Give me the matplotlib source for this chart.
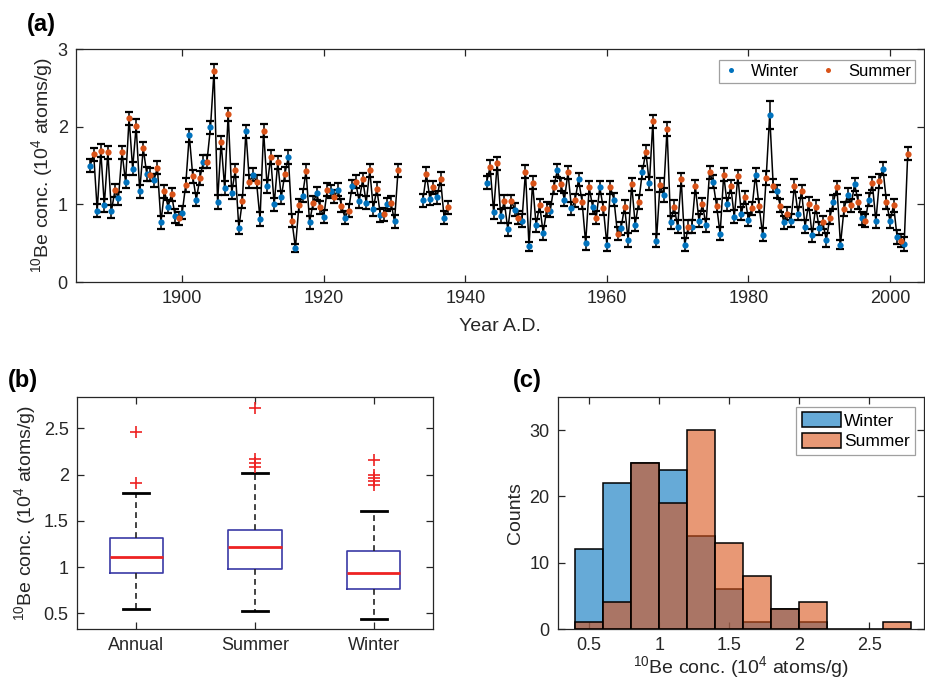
import numpy as np
import matplotlib
matplotlib.use('Agg')
import matplotlib.pyplot as plt
from matplotlib.patches import Patch
from matplotlib.ticker import FuncFormatter

plt.rcParams['font.family'] = ['Liberation Sans', 'DejaVu Sans']
plt.rcParams['mathtext.fontset'] = 'custom'
plt.rcParams['mathtext.rm'] = 'Liberation Sans'
plt.rcParams['mathtext.it'] = 'Liberation Sans:italic'
plt.rcParams['mathtext.bf'] = 'Liberation Sans:bold'

# ---------------- data ----------------
winter_years = np.r_[1887:1931, 1934:1938, 1943:2003]
summer_years = winter_years + 0.5

winter_vals = [
    1.50, 0.92, 0.99, 0.91, 1.08, 1.29, 1.46, 1.17, 1.39, 1.31,   # 1887-1896
    0.77, 0.97, 0.85, 0.89, 1.89, 1.06, 1.55, 1.99, 1.03, 1.21,   # 1897-1906
    1.15, 0.70, 1.94, 1.38, 0.81, 1.23, 1.00, 1.09, 1.61, 0.44,   # 1907-1916
    1.11, 0.77, 1.14, 0.84, 1.17, 1.19, 0.83, 1.23, 1.04, 1.02,   # 1917-1926
    0.94, 0.86, 1.00, 0.78,                                       # 1927-1930
    1.05, 1.07, 1.09, 0.83,                                       # 1934-1937
    1.28, 0.90, 0.85, 0.68, 0.93, 0.79, 0.46, 0.73, 0.63, 0.92,   # 1943-1952
    1.44, 1.06, 0.95, 1.32, 0.50, 0.96, 1.22, 0.48, 1.06, 0.69,   # 1953-1962
    0.54, 0.74, 1.41, 1.27, 0.53, 1.12, 0.77, 0.71, 0.48, 0.71,   # 1963-1972
    0.79, 0.73, 1.29, 0.62, 1.00, 0.84, 0.88, 0.80, 1.38, 0.61,   # 1973-1982
    2.15, 1.17, 0.77, 0.79, 0.88, 0.71, 0.60, 0.69, 0.54, 1.03,   # 1983-1992
    0.48, 1.12, 1.26, 0.82, 1.06, 0.78, 1.46, 0.78, 0.58, 0.49,   # 1993-2002
]
summer_vals = [
    1.645, 1.69, 1.67, 1.18, 1.67, 2.11, 2.01, 1.72, 1.38, 1.47,  # 1887-1896
    1.17, 1.13, 0.82, 1.25, 1.36, 1.34, 1.55, 2.72, 1.80, 2.16,   # 1897-1906
    1.44, 1.04, 1.29, 1.29, 1.95, 1.61, 1.54, 1.39, 0.79, 0.99,   # 1907-1916
    1.43, 1.02, 0.96, 1.19, 1.10, 0.98, 0.92, 1.29, 1.32, 1.44,   # 1917-1926
    1.20, 0.87, 1.02, 1.44,                                       # 1927-1930
    1.39, 1.22, 1.33, 0.96,                                       # 1934-1937
    1.48, 1.53, 1.04, 1.04, 0.83, 1.42, 1.28, 0.99, 0.94, 1.22,   # 1943-1952
    1.26, 1.41, 1.05, 1.03, 1.22, 0.83, 0.95, 1.22, 0.62, 0.97,   # 1953-1962
    1.26, 1.03, 1.68, 2.07, 1.25, 1.97, 0.97, 1.32, 0.71, 1.23,   # 1963-1972
    1.00, 1.41, 0.98, 1.38, 1.23, 1.36, 1.09, 0.95, 0.98, 1.34,   # 1973-1982
    1.24, 0.98, 0.88, 1.24, 1.17, 1.01, 0.97, 0.77, 0.83, 1.22,   # 1983-1992
    0.94, 0.99, 1.03, 0.79, 1.27, 1.30, 1.03, 0.99, 0.53, 1.65,   # 1993-2002
]
default_err = 0.085
winter_err_special = {1983: 0.18, 1916: 0.05, 1949: 0.06, 1993: 0.06}
summer_err_special = {1904: 0.09}

# box plot statistics
box_labels = ['Annual', 'Summer', 'Winter']
box_med = [1.107, 1.219, 0.938]
box_q1 = [0.938, 0.98, 0.762]
box_q3 = [1.316, 1.40, 1.169]
box_whislo = [0.55, 0.53, 0.44]
box_whishi = [1.80, 2.013, 1.607]
box_fliers = [[2.46, 1.906], [2.725, 2.17, 2.13, 2.08], [2.157, 2.0, 1.96, 1.93, 1.89]]

# histogram counts (panel c)
bin_edges = [0.4, 0.6, 0.8, 1.0, 1.2, 1.4, 1.6, 1.8, 2.0, 2.2, 2.4, 2.6, 2.8]
winter_counts = [12, 22, 25, 24, 14, 6, 1, 3, 1]
summer_counts = [1, 4, 25, 19, 30, 13, 8, 3, 4, 0, 0, 1]

# ---------------- style ----------------
BLUE = '#0072BD'
ORANGE = '#D95319'
AX = '#262626'
TICK_FS = 13
LAB_FS = 14
yl_text = r'$^{10}$Be conc. (10$^{4}$ atoms/g)'

W, H = 925, 692
fig = plt.figure(figsize=(W / 100, H / 100), dpi=100)

def px_axes(l, t, r, b):
    return fig.add_axes([l / W, 1 - b / H, (r - l) / W, (b - t) / H])

def style(ax):
    for s in ax.spines.values():
        s.set_color(AX)
        s.set_linewidth(0.9)
    ax.tick_params(direction='in', top=True, right=True, length=5, width=0.9,
                   colors=AX, labelsize=TICK_FS, pad=6)

fmt = FuncFormatter(lambda v, p: ('%g' % round(v, 3)))

# ---------------- panel a ----------------
axa = px_axes(76, 49, 924, 282)
style(axa)
w_err = [winter_err_special.get(int(y), default_err) for y in winter_years]
s_err = [summer_err_special.get(int(y), default_err) for y in winter_years]
t_all = np.concatenate([winter_years, summer_years]).astype(float)
v_all = np.concatenate([winter_vals, summer_vals])
e_all = np.concatenate([w_err, s_err])
order = np.argsort(t_all)
t_all, v_all, e_all = t_all[order], v_all[order], e_all[order]
# break the line at the data gaps
gap = np.where(np.diff(t_all) > 1)[0]
t_line = np.insert(t_all, gap + 1, np.nan)
v_line = np.insert(v_all, gap + 1, np.nan)
e_line = np.insert(e_all, gap + 1, np.nan)
axa.errorbar(t_line, v_line, yerr=e_line, color='k', lw=1.1, elinewidth=1.1,
             capsize=3.2, capthick=1.6, zorder=2)
axa.plot(winter_years, winter_vals, 'o', color=BLUE, ms=4.5, mec='none', zorder=3, label='Winter')
axa.plot(summer_years, summer_vals, 'o', color=ORANGE, ms=4.5, mec='none', zorder=3, label='Summer')
axa.set_xlim(1885, 2004.8)
axa.set_ylim(0, 3)
axa.set_yticks([0, 1, 2, 3])
axa.set_xticks([1900, 1920, 1940, 1960, 1980, 2000])
leg = axa.legend(loc='upper right', ncol=2, fontsize=12, frameon=True, fancybox=False,
                 edgecolor='#888888', markerscale=0.8, handlelength=1.0,
                 handletextpad=0.7, columnspacing=1.2, borderpad=0.25,
                 borderaxespad=0.0, bbox_to_anchor=(1 - 9 / 848, 1 - 11 / 233))
leg.get_frame().set_linewidth(0.9)
axa.text(-0.040, 0.5, yl_text, transform=axa.transAxes, rotation=90,
         ha='center', va='center', fontsize=LAB_FS, color=AX)
axa.text(0.5, -0.19, 'Year A.D.', transform=axa.transAxes,
         ha='center', va='center', fontsize=LAB_FS, color=AX)

# ---------------- panel b ----------------
axb = px_axes(77, 397, 433, 629)
style(axb)
stats = []
for i in range(3):
    stats.append(dict(med=box_med[i], q1=box_q1[i], q3=box_q3[i],
                      whislo=box_whislo[i], whishi=box_whishi[i],
                      fliers=box_fliers[i], label=box_labels[i]))
axb.bxp(stats, positions=[1, 2, 3], widths=0.45, capwidths=0.22,
        boxprops=dict(color='#3a3aa6', lw=1.2),
        medianprops=dict(color='#ee2222', lw=2),
        whiskerprops=dict(color='#222222', ls=(0, (3.5, 2.5)), lw=1.2),
        capprops=dict(color='k', lw=2),
        flierprops=dict(marker='+', markeredgecolor='#ee2222', markersize=8,
                        markeredgewidth=1.2, ls='none'),
        manage_ticks=False)
axb.set_xlim(0.5, 3.5)
axb.set_ylim(0.33, 2.84)
axb.set_xticks([1, 2, 3])
axb.set_xticklabels(box_labels)
axb.set_yticks([0.5, 1, 1.5, 2, 2.5])
axb.yaxis.set_major_formatter(fmt)
axb.text(-0.146, 0.5, yl_text, transform=axb.transAxes, rotation=90,
         ha='center', va='center', fontsize=LAB_FS, color=AX)

# ---------------- panel c ----------------
axc = px_axes(558, 397, 924, 629)
style(axc)
edges = np.array(bin_edges)
widths = np.diff(edges)
axc.bar(edges[:len(winter_counts)], winter_counts, width=widths[:len(winter_counts)],
        align='edge', facecolor=matplotlib.colors.to_rgba(BLUE, 0.6),
        edgecolor='k', linewidth=1.1, zorder=2)
axc.bar(edges[:len(summer_counts)], summer_counts, width=widths[:len(summer_counts)],
        align='edge', facecolor=matplotlib.colors.to_rgba(ORANGE, 0.6),
        edgecolor='k', linewidth=1.1, zorder=3)
axc.set_xlim(0.277, 2.89)
axc.set_ylim(0, 35)
axc.set_xticks([0.5, 1, 1.5, 2, 2.5])
axc.xaxis.set_major_formatter(fmt)
axc.set_yticks([0, 10, 20, 30])
handles = [Patch(facecolor=matplotlib.colors.to_rgba(BLUE, 0.6), edgecolor='k', lw=1.1),
           Patch(facecolor=matplotlib.colors.to_rgba(ORANGE, 0.6), edgecolor='k', lw=1.1)]
legc = axc.legend(handles, ['Winter', 'Summer'], loc='upper right', fontsize=12.5,
                  fancybox=False, edgecolor='#888888', handlelength=2.3,
                  handleheight=0.95, handletextpad=0.15, borderpad=0.3,
                  labelspacing=0.25, borderaxespad=0.0,
                  bbox_to_anchor=(1 - 9 / 366, 1 - 10 / 232))
legc.get_frame().set_linewidth(0.9)
axc.text(-0.117, 0.5, 'Counts', transform=axc.transAxes, rotation=90,
         ha='center', va='center', fontsize=LAB_FS, color=AX)
axc.text(0.5, -0.165, yl_text, transform=axc.transAxes,
         ha='center', va='center', fontsize=LAB_FS, color=AX)

# ---------------- panel letters ----------------
fig.text(27 / W, 1 - 24 / H, '(a)', fontsize=17, fontweight='bold', ha='left', va='center')
fig.text(8 / W, 1 - 380 / H, '(b)', fontsize=17, fontweight='bold', ha='left', va='center')
fig.text(513 / W, 1 - 380 / H, '(c)', fontsize=17, fontweight='bold', ha='left', va='center')

fig.savefig('out.png', dpi=100)
